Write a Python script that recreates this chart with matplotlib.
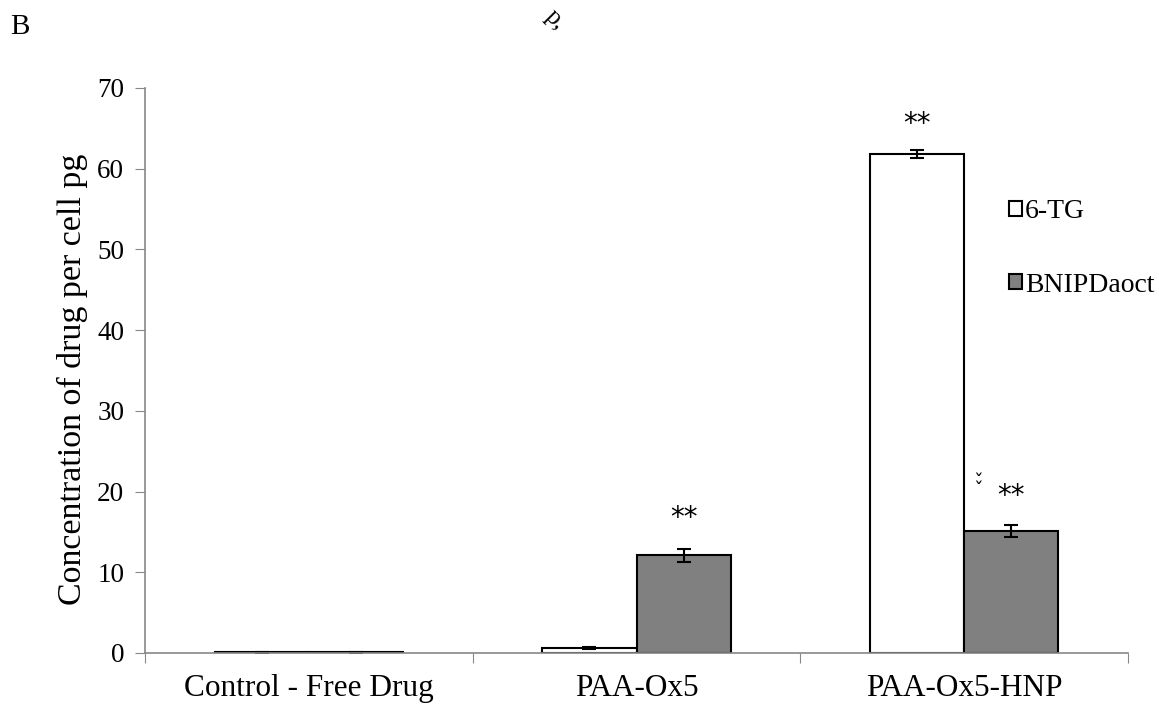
import matplotlib.pyplot as plt
import numpy as np

categories = ['Control - Free Drug', 'PAA-Ox5', 'PAA-Ox5-HNP']
tg_vals = [0.1, 0.6, 61.8]
tg_err = [0.05, 0.15, 0.5]
bnip_vals = [0.1, 12.1, 15.1]
bnip_err = [0.05, 0.8, 0.7]
series_names = ['6-TG', 'BNIPDaoct']

plt.rcParams['font.family'] = ['Liberation Serif', 'DejaVu Serif']

fig = plt.figure(figsize=(11.59, 7.06), dpi=100)
ax = fig.add_axes([0.1251, 0.0751, 0.8482, 0.8003])

x = np.arange(len(categories))
w = 0.287
ekw = dict(ecolor='black', elinewidth=1.5, capsize=5, capthick=1.5)
b1 = ax.bar(x - w / 2, tg_vals, w, yerr=tg_err, color='white', edgecolor='black',
            linewidth=1.5, error_kw=ekw, label=series_names[0])
b2 = ax.bar(x + w / 2, bnip_vals, w, yerr=bnip_err, color='#808080', edgecolor='black',
            linewidth=1.5, error_kw=ekw, label=series_names[1])

# significance marks
star_kw = dict(ha='center', va='center', fontsize=20, family='DejaVu Sans')
ax.text(x[1] + w / 2, 16.7, '**', **star_kw)
ax.text(x[2] - w / 2, 65.5, '**', **star_kw)
ax.text(x[2] + w / 2, 19.5, '**', **star_kw)
ax.text(x[2] + w / 2 - 0.1, 20.6, '\u02c7\n\u02c7', ha='center', va='center',
        fontsize=14, linespacing=0.3, family='DejaVu Sans')

ax.set_xlim(-0.5, 2.5)
ax.set_ylim(0, 70)
ax.set_yticks(range(0, 71, 10))
ax.set_xticks([-0.5, 0.5, 1.5, 2.5])
ax.set_xticklabels([])
ax.set_xticks(x, minor=True)
ax.set_xticklabels(categories, minor=True, fontsize=22.5)
ax.tick_params(axis='x', which='minor', length=0, pad=15)
ax.tick_params(axis='x', which='major', length=7, color='#888888', direction='out')
ax.tick_params(axis='y', length=7, color='#888888', labelsize=19.5, pad=8)
for s in ['top', 'right']:
    ax.spines[s].set_visible(False)
for s in ['left', 'bottom']:
    ax.spines[s].set_color('#888888')
    ax.spines[s].set_linewidth(1.2)
ax.set_ylabel('Concentration of drug per cell pg', fontsize=24.5)
ax.yaxis.set_label_coords(-0.058, 0.485)

ax.legend(handles=[b1, b2], loc='upper left', bbox_to_anchor=(0.871, 0.718),
          bbox_transform=fig.transFigure, frameon=False, fontsize=20,
          borderpad=0, borderaxespad=0,
          handlelength=0.45, handleheight=0.45, handletextpad=0.1, labelspacing=1.75)

fig.text(0.009, 0.962, 'B', fontsize=21, va='center')
fig.text(0.479, 0.972, 'p,', fontsize=18, rotation=-45, ha='center', va='center')

fig.savefig('out.png', dpi=100)
